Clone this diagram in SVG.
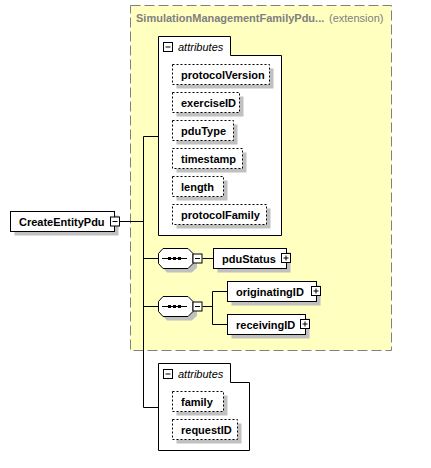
<svg xmlns="http://www.w3.org/2000/svg" width="431" height="468" viewBox="0 0 431 468">
<style>
  .t{font-family:"Liberation Sans",Arial,sans-serif;font-size:11px;font-weight:bold;fill:#000}
  .it{font-family:"Liberation Sans",Arial,sans-serif;font-size:11px;font-style:italic;fill:#000}
  .sh{fill:#c0c0c0}
  .box{fill:#fff;stroke:#000;stroke-width:1}
  .dbox{fill:#fff;stroke:#000;stroke-width:1;stroke-dasharray:2,2}
  .ln{fill:none;stroke:#000;stroke-width:1}
  .ic{fill:#fff;stroke:#000;stroke-width:1}
</style>
<defs>
  <g id="minus"><rect class="ic" x="0" y="0" width="9" height="9"/><path class="ln" d="M2,4.5H7"/></g>
  <g id="plus"><rect class="ic" x="0" y="0" width="9" height="9"/><path class="ln" d="M2,4.5H7M4.5,2V7"/></g>
  <g id="seq">
    <polygon class="sh" points="9,4.5 34,4.5 39,9.5 39,19.5 34,24.5 9,24.5 4.5,19.5 4.5,9.5"/>
    <polygon class="box" points="5,0.5 30,0.5 35,5.5 35,15.5 30,20.5 5,20.5 0.5,15.5 0.5,5.5"/>
    <path class="ln" d="M4,10.5H29"/>
    <rect x="10" y="9" width="3" height="3" fill="#000"/>
    <rect x="15" y="9" width="3" height="3" fill="#000"/>
    <rect x="20" y="9" width="3" height="3" fill="#000"/>
  </g>
</defs>

<g id="extension">
  <rect x="130.5" y="5.5" width="261" height="345" fill="#ffffc0" stroke="#808080" stroke-width="1" stroke-dasharray="10,4"/>
  <text x="136" y="22" font-family="Liberation Sans,Arial,sans-serif" font-size="11" font-weight="bold" fill="#808080">SimulationManagementFamilyPdu...</text>
  <text x="329" y="22" font-family="Liberation Sans,Arial,sans-serif" font-size="11" fill="#808080">(extension)</text>
</g>

<g id="connectors">
  <path class="ln" d="M119,221.5H143.5M143.5,136.5V407.5M143.5,136.5H158.5M143.5,258.5H158.5M143.5,306.5H158.5M143.5,407.5H158.5"/>
  <path class="ln" d="M202.5,258.5H213.5"/>
  <path class="ln" d="M202.5,306.5H212.5M212.5,291.5V324.5M212.5,291.5H227.5M212.5,324.5H227.5"/>
</g>

<g id="CreateEntityPdu">
  <rect class="sh" x="14.5" y="215.5" width="104" height="20"/>
  <rect class="box" x="10.5" y="211.5" width="104" height="20"/>
  <text class="t" x="19" y="226">CreateEntityPdu</text>
  <use href="#minus" x="110.5" y="217"/>
</g>

<g id="attributes1">
  <path class="box" d="M158.5,36.5H230.5V55.5H281.5V235.5H158.5Z"/>
  <use href="#minus" x="163.5" y="42.5"/>
  <text class="it" x="178" y="51">attributes</text>
</g>

<g id="protocolVersion">
  <rect class="sh" x="176.5" y="68.5" width="97" height="20"/>
  <rect class="dbox" x="172.5" y="64.5" width="97" height="20"/>
  <text class="t" x="181" y="79">protocolVersion</text>
</g>
<g id="exerciseID">
  <rect class="sh" x="176.5" y="96.5" width="67" height="20"/>
  <rect class="dbox" x="172.5" y="92.5" width="67" height="20"/>
  <text class="t" x="181" y="107">exerciseID</text>
</g>
<g id="pduType">
  <rect class="sh" x="176.5" y="124.5" width="61" height="20"/>
  <rect class="dbox" x="172.5" y="120.5" width="61" height="20"/>
  <text class="t" x="181" y="135">pduType</text>
</g>
<g id="timestamp">
  <rect class="sh" x="176.5" y="152.5" width="70" height="20"/>
  <rect class="dbox" x="172.5" y="148.5" width="70" height="20"/>
  <text class="t" x="181" y="163">timestamp</text>
</g>
<g id="length">
  <rect class="sh" x="176.5" y="180.5" width="51" height="20"/>
  <rect class="dbox" x="172.5" y="176.5" width="51" height="20"/>
  <text class="t" x="181" y="191">length</text>
</g>
<g id="protocolFamily">
  <rect class="sh" x="176.5" y="208.5" width="94" height="20"/>
  <rect class="dbox" x="172.5" y="204.5" width="94" height="20"/>
  <text class="t" x="181" y="219">protocolFamily</text>
</g>

<g id="sequence1">
  <use href="#seq" x="158" y="248"/>
  <use href="#minus" x="193" y="254"/>
</g>
<g id="pduStatus">
  <rect class="sh" x="217.5" y="252.5" width="73" height="20"/>
  <rect class="box" x="213.5" y="248.5" width="73" height="20"/>
  <text class="t" x="222" y="263">pduStatus</text>
  <use href="#plus" x="281.5" y="253.5"/>
</g>

<g id="sequence2">
  <use href="#seq" x="158" y="296"/>
  <use href="#minus" x="193" y="302"/>
</g>
<g id="originatingID">
  <rect class="sh" x="231.5" y="285.5" width="89" height="20"/>
  <rect class="box" x="227.5" y="281.5" width="89" height="20"/>
  <text class="t" x="236" y="296">originatingID</text>
  <use href="#plus" x="311.5" y="286.5"/>
</g>
<g id="receivingID">
  <rect class="sh" x="231.5" y="318.5" width="78" height="20"/>
  <rect class="box" x="227.5" y="314.5" width="78" height="20"/>
  <text class="t" x="236" y="329">receivingID</text>
  <use href="#plus" x="300.5" y="319.5"/>
</g>

<g id="attributes2">
  <path class="box" d="M158.5,363.5H230.5V382.5H249.5V450.5H158.5Z"/>
  <use href="#minus" x="163.5" y="369.5"/>
  <text class="it" x="178" y="378">attributes</text>
</g>
<g id="family">
  <rect class="sh" x="176.5" y="395.5" width="51" height="20"/>
  <rect class="dbox" x="172.5" y="391.5" width="51" height="20"/>
  <text class="t" x="181" y="406">family</text>
</g>
<g id="requestID">
  <rect class="sh" x="176.5" y="423.5" width="65" height="20"/>
  <rect class="dbox" x="172.5" y="419.5" width="65" height="20"/>
  <text class="t" x="181" y="434">requestID</text>
</g>
</svg>
